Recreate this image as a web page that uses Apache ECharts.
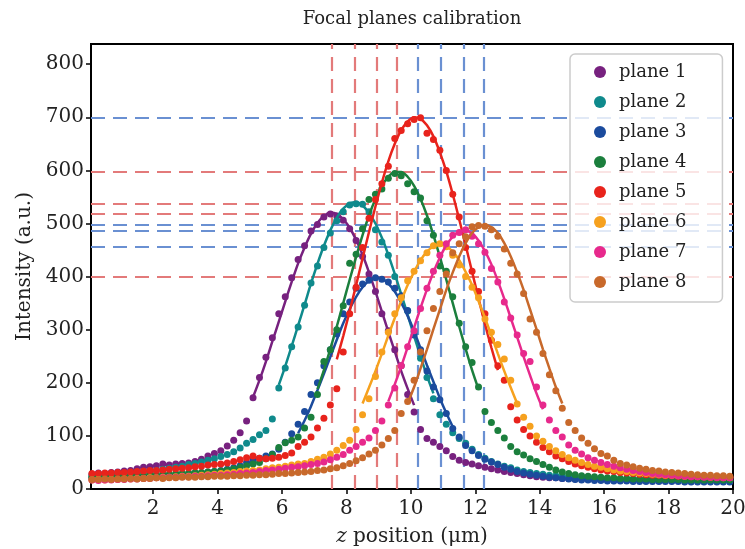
<!DOCTYPE html>
<html><head><meta charset="utf-8">
<script src="https://cdn.jsdelivr.net/npm/echarts@6/dist/echarts.min.js"></script>
<style>html,body{margin:0;padding:0;background:#fff}#c{width:745px;height:549px}</style>
</head><body><div id="c"></div>
<script>
// shared z positions (µm) of the measured points
const zGrid = [0.1,0.3,0.5,0.7,0.9,1.1,1.3,1.5,1.7,1.9,
  2.1,2.3,2.5,2.7,2.9,3.1,3.3,3.5,3.7,3.9,
  4.1,4.3,4.5,4.7,4.9,5.1,5.3,5.5,5.7,5.9,
  6.1,6.3,6.5,6.7,6.9,7.1,7.3,7.5,7.7,7.9,
  8.1,8.3,8.5,8.7,8.9,9.1,9.3,9.5,9.7,9.9,
  10.1,10.3,10.5,10.7,10.9,11.1,11.3,11.5,11.7,11.9,
  12.1,12.3,12.5,12.7,12.9,13.1,13.3,13.5,13.7,13.9,
  14.1,14.3,14.5,14.7,14.9,15.1,15.3,15.5,15.7,15.9,
  16.1,16.3,16.5,16.7,16.9,17.1,17.3,17.5,17.7,17.9,
  18.1,18.3,18.5,18.7,18.9,19.1,19.3,19.5,19.7,19.9];

const planeNames = ['plane 1','plane 2','plane 3','plane 4','plane 5','plane 6','plane 7','plane 8'];
const planeColors = ['#77217f','#0f8a8c','#1b4b9d','#1b7f3d','#e8231c','#f6a11e','#e7298c','#c8692b'];

// measured intensities (a.u.)
const plane1 = [28,30,29,31,32,34,35,38,41,42, 44,47,45,47,48,49,52,56,62,67, 72,81,92,106,128,172,210,248,285,330, 362,398,432,458,486,498,512,518,514,506, 490,468,438,405,372,330,298,262,232,178, 145,112,95,88,80,72,61,54,50,47, 44,41,38,36,33,31,29,27,25,23, 22,21,21,20,20,19,19,19,18,18, 18,18,17,17,17,17,17,17,17,17, 17,17,17,17,17,17,17,17,17,17];
const plane2 = [24,25,26,27,28,29,30,32,33,34, 35,37,39,41,43,46,48,51,54,57, 61,65,70,77,86,93,102,110,132,190, 228,268,305,346,388,420,455,482,505,522, 535,537,536,522,488,465,440,400,362,335, 296,246,210,170,140,122,106,95,86,75, 65,58,52,47,43,40,36,33,31,29, 28,26,25,24,23,22,21,21,20,20, 19,19,19,18,18,18,18,18,17,17, 17,17,17,17,17,17,16,16,16,16];
const plane3 = [20,19,20,21,20,21,22,22,23,23, 24,24,25,26,27,28,29,30,32,33, 35,37,40,44,50,55,58,62,66,75, 88,104,122,146,178,200,232,262,292,330, 352,378,386,393,398,395,390,378,364,336, 290,262,222,192,168,142,114,98,82,72, 63,56,51,46,41,37,33,30,28,26, 24,22,21,20,19,18,17,17,16,16, 15,15,15,15,14,14,14,14,14,14, 14,14,13,13,13,13,13,13,13,13];
const plane4 = [22,23,22,24,24,25,25,26,26,27, 27,28,28,29,29,30,31,31,32,33, 34,36,38,41,44,47,50,57,65,78, 87,92,98,115,135,178,240,262,300,345, 425,442,490,545,555,565,585,594,590,575, 560,548,505,478,420,410,362,312,268,238, 192,146,125,110,96,80,70,64,57,52, 46,41,36,32,29,27,25,24,23,22, 21,21,20,20,19,19,19,18,18,18, 18,18,17,17,17,17,17,17,17,17];
const plane5 = [29,29,30,30,31,31,32,33,34,35, 35,36,37,38,39,40,42,43,45,46, 47,49,52,55,59,62,58,57,58,60, 63,68,80,88,98,115,133,158,189,258, 330,380,455,510,545,575,608,660,675,688, 696,699,670,658,638,600,555,512,455,410, 372,330,280,232,205,155,130,112,100,88, 78,70,62,57,52,47,44,41,38,36, 34,33,31,30,29,28,27,26,26,25, 25,24,24,23,23,23,22,22,22,22];
const plane6 = [17,18,17,18,18,19,19,20,20,21, 21,22,22,23,24,24,25,26,27,28, 29,30,31,33,34,35,36,38,40,41, 43,45,47,48,52,56,60,66,73,82, 92,112,140,170,212,258,295,330,360,392, 410,430,445,458,462,456,440,422,400,380, 360,320,295,272,245,205,160,135,118,100, 90,80,72,65,59,54,50,46,43,41, 38,36,34,33,31,30,29,28,27,26, 26,25,24,24,23,23,22,22,21,21];
const plane7 = [17,16,17,17,18,18,19,19,20,20, 21,21,22,22,23,23,24,24,25,26, 26,27,28,29,30,31,33,35,36,37, 39,41,42,44,46,48,51,55,60,65, 73,80,88,96,110,128,158,190,232,268, 298,340,378,410,440,462,478,483,488,476, 462,446,415,390,352,322,290,255,240,192, 158,130,110,98,83,73,66,59,54,50, 46,43,40,37,35,33,31,29,28,27, 26,25,24,23,23,22,22,21,21,21];
const plane8 = [18,18,19,18,19,19,20,19,20,20, 21,20,21,21,22,22,22,23,23,24, 24,24,25,25,26,26,27,27,28,29, 29,30,31,32,33,35,36,38,40,44, 48,53,59,66,73,83,95,110,142,165, 205,258,298,340,372,405,445,462,475,494, 496,495,488,476,452,425,405,368,320,295, 255,215,185,152,125,110,96,86,76,67, 62,54,48,45,42,39,37,35,34,32, 31,30,29,28,27,26,26,25,25,24];

// fitted curves: first z of each fit (on the shared grid) and fitted values
const fitStart = [5.1, 5.9, 6.5, 7.1, 7.7, 8.5, 9.3, 9.9];
const fit1 = [173,205,240,278,315,353,390,425,455,481,501,514,520,518,508,492,469,441,408,372,334,296,259,222,189,158];
const fit2 = [196,231,269,308,347,387,424,458,487,511,528,538,540,534,520,500,473,441,405,367,328,288,250,213,180];
const fit3 = [105,129,156,186,217,249,281,312,339,362,380,392,398,396,387,372,351,326,297,265,233,202,171,143,117];
const fit4 = [188,224,264,306,350,394,437,478,515,546,571,588,597,597,588,571,546,515,478,437,394,350,306,264,224,188];
const fit5 = [244,288,335,384,434,484,532,577,617,650,676,692,700,697,685,664,634,598,555,508,459,409,359,311,266,224];
const fit6 = [161,191,222,255,289,322,354,384,409,431,447,457,460,457,447,431,409,384,354,322,289,255,222,191,161];
const fit7 = [165,197,231,267,304,341,376,408,436,459,475,485,487,481,468,448,423,392,358,322,286,249,214,180,150];
const fit8 = [161,192,227,263,301,338,375,408,438,463,482,493,497,493,482,463,438,408,375,338,301,263,227,192,161];

// peak positions and peak intensities (reference lines)
const peakZRed = [7.54, 8.26, 8.95, 9.57];
const peakZBlue = [10.22, 10.94, 11.63, 12.25];
const peakIRed = [518, 538, 400, 597];
const peakIBlue = [700, 456, 486, 497];

const xTicks = [2,4,6,8,10,12,14,16,18,20];
const yTicks = [0,100,200,300,400,500,600,700,800];

const planes = [plane1,plane2,plane3,plane4,plane5,plane6,plane7,plane8];
const fits = [fit1,fit2,fit3,fit4,fit5,fit6,fit7,fit8];

const FONT = 'DejaVu Serif';
const TXT = '#222222';
const RED = '#e37a7a';
const BLUE = '#6a90d2';

const markData = [];
peakZRed.forEach(z => markData.push({xAxis: z, lineStyle: {color: RED}}));
peakZBlue.forEach(z => markData.push({xAxis: z, lineStyle: {color: BLUE}}));
peakIRed.forEach(v => markData.push({yAxis: v, lineStyle: {color: RED}}));
peakIBlue.forEach(v => markData.push({yAxis: v, lineStyle: {color: BLUE}}));

const series = [{
  type: 'line', name: 'refs', data: [], z: 1, silent: true,
  markLine: {
    z: 1, silent: true, symbol: ['none','none'], label: {show: false}, animation: false,
    lineStyle: {type: [14, 8], width: 2.2, opacity: 1},
    emphasis: {disabled: true},
    data: markData
  }
}];

planes.forEach((vals, k) => {
  series.push({
    type: 'scatter', name: planeNames[k], z: 2 + k,
    symbol: 'circle', symbolSize: 7,
    itemStyle: {color: planeColors[k], opacity: 1},
    data: vals.map((v, i) => [zGrid[i], v])
  });
  const i0 = zGrid.findIndex(z => Math.abs(z - fitStart[k]) < 1e-6);
  series.push({
    type: 'line', name: planeNames[k] + ' fit', z: 2 + k,
    showSymbol: false, smooth: 0.3,
    lineStyle: {color: planeColors[k], width: 2.5},
    itemStyle: {color: planeColors[k]},
    data: fits[k].map((v, i) => [zGrid[i0 + i], v])
  });
});

const chart = echarts.init(document.getElementById('c'), null, {renderer: 'canvas'});
chart.setOption({
  animation: false,
  backgroundColor: '#ffffff',
  graphic: [{
    type: 'text', x: 412, y: 19,
    style: {text: 'Focal planes calibration', fontFamily: FONT, fontSize: 18, fill: TXT,
            align: 'center', verticalAlign: 'middle', textAlign: 'center', textVerticalAlign: 'middle'}
  }],
  grid: {left: 91, right: 12, top: 44, bottom: 60, outerBoundsMode: 'none', containLabel: false,
         show: true, borderColor: '#000', borderWidth: 2, backgroundColor: 'transparent'},
  legend: {
    z: 50,
    data: planeNames, orient: 'vertical', left: 570, top: 54,
    icon: 'circle', itemWidth: 12, itemHeight: 12, itemGap: 10,
    padding: [8, 36, 10, 24],
    backgroundColor: 'rgba(255,255,255,0.8)', borderColor: '#cccccc', borderWidth: 1.5, borderRadius: 5,
    formatter: n => '{a|' + n + '}',
    textStyle: {fontFamily: FONT, fontSize: 18, color: TXT, lineHeight: 20,
      rich: {a: {fontFamily: FONT, fontSize: 18, color: TXT, lineHeight: 20, padding: [0, 0, 0, 8]}}}
  },
  xAxis: {
    type: 'value', min: 0.07, max: 20,
    name: '{i|z} position (μm)', nameLocation: 'middle', nameGap: 38,
    nameTextStyle: {fontFamily: FONT, fontSize: 20, color: TXT,
      rich: {i: {fontFamily: FONT, fontSize: 20, color: TXT, fontStyle: 'italic'}}},
    axisLine: {show: true, onZero: false, lineStyle: {color: '#000', width: 2}},
    axisTick: {show: true, inside: false, length: 5, lineStyle: {color: '#000', width: 1.5}, customValues: xTicks},
    axisLabel: {fontFamily: FONT, fontSize: 20, color: TXT, margin: 10, customValues: xTicks},
    splitLine: {show: false}
  },
  yAxis: {
    type: 'value', min: 0, max: 838,
    name: 'Intensity (a.u.)', nameLocation: 'middle', nameGap: 56,
    nameTextStyle: {fontFamily: FONT, fontSize: 20, color: TXT},
    axisLine: {show: true, onZero: false, lineStyle: {color: '#000', width: 2}},
    axisTick: {show: true, inside: false, length: 5, lineStyle: {color: '#000', width: 1.5}, customValues: yTicks},
    axisLabel: {fontFamily: FONT, fontSize: 20, color: TXT, margin: 7, customValues: yTicks},
    splitLine: {show: false}
  },
  series: series
});
</script>
</body></html>
